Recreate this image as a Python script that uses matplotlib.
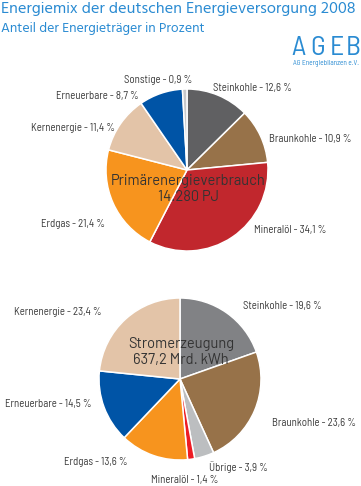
import matplotlib.pyplot as plt
from matplotlib import font_manager as fm

# Primärenergieverbrauch 2008 (Anteile in %)
pev_names = ['Steinkohle', 'Braunkohle', 'Mineralöl', 'Erdgas', 'Kernenergie', 'Erneuerbare', 'Sonstige']
pev_values = [12.6, 10.9, 34.1, 21.4, 11.4, 8.7, 0.9]
pev_colors = ['#606062', '#977249', '#c1272d', '#f7941e', '#e3c4a8', '#0054a6', '#c8c9cb']

# Stromerzeugung 2008 (Anteile in %)
strom_names = ['Steinkohle', 'Braunkohle', 'Übrige', 'Mineralöl', 'Erdgas', 'Erneuerbare', 'Kernenergie']
strom_values = [19.6, 23.6, 3.9, 1.4, 13.6, 14.5, 23.4]
strom_colors = ['#818285', '#977249', '#bcbec0', '#ed1c24', '#f7941e', '#0054a6', '#e3c4a8']

W, H = 361, 486
blue = '#2a8bd2'
txt = '#3a3a3a'

avail = {f.name for f in fm.fontManager.ttflist}


def pick(cands):
    for c in cands:
        if c in avail:
            return [c, 'DejaVu Sans']
    return ['DejaVu Sans']


cond = pick(['Barlow Semi Condensed', 'Barlow Condensed', 'Roboto Condensed', 'PT Sans Narrow',
             'Archivo Narrow', 'Liberation Sans'])
din = pick(['Barlow', 'Barlow Semi Condensed', 'Roboto', 'Liberation Sans'])
head = pick(['Hind', 'Noto Sans', 'Open Sans', 'Liberation Sans'])

fig = plt.figure(figsize=(W / 100, H / 100), dpi=100)
ax = fig.add_axes([0, 0, 1, 1])
ax.set_xlim(0, W)
ax.set_ylim(0, H)
renderer = fig.canvas.get_renderer()


def fit_size(s, family, target, weight='normal'):
    # Schriftgröße so wählen, dass der Text die Breite aus der Vorlage hat
    t = ax.text(0, 0, s, fontsize=10, family=family, fontweight=weight)
    w = t.get_window_extent(renderer).width
    t.remove()
    return 10 * target / w


def fmt(v):
    return f'{v:.1f}'.replace('.', ',')


def draw_pie(values, colors, cx, cy, r):
    ax.pie(values, colors=colors, startangle=90, counterclock=False,
           center=(cx, H - cy), radius=r, frame=True,
           wedgeprops=dict(edgecolor='white', linewidth=1.1))


# Label-Positionen (Pixel, von oben) und Ausrichtung
pev_label_pos = [(213, 88, 'left'), (269, 139, 'left'), (254, 230, 'left'), (105, 224, 'right'),
                 (115, 128, 'right'), (139, 96, 'right'), (192, 80, 'right')]
strom_label_pos = [(243, 306, 'left'), (272, 423, 'left'), (209, 467, 'left'), (218, 480, 'right'),
                   (128, 462, 'right'), (92, 404, 'right'), (102, 312, 'right')]

draw_pie(pev_values, pev_colors, 187, 170, 81)
draw_pie(strom_values, strom_colors, 180, 379, 81)

lab_fs = fit_size('Steinkohle - 12,6 %', cond, 79)
for n, v, (x, y, ha) in zip(pev_names, pev_values, pev_label_pos):
    ax.text(x, H - y, f'{n} - {fmt(v)} %', ha=ha, va='center', fontsize=lab_fs, color=txt, family=cond)
for n, v, (x, y, ha) in zip(strom_names, strom_values, strom_label_pos):
    ax.text(x, H - y, f'{n} - {fmt(v)} %', ha=ha, va='center', fontsize=lab_fs, color=txt, family=cond)

mid_fs = fit_size('Primärenergieverbrauch', din, 156)
ax.text(188, H - 189, 'Primärenergieverbrauch\n14.280 PJ', ha='center', va='center',
        fontsize=mid_fs, color='#333333', family=din, linespacing=1.15)
ax.text(181, H - 352, 'Stromerzeugung\n637,2 Mrd. kWh', ha='center', va='center',
        fontsize=mid_fs, color='#333333', family=din, linespacing=1.15)

# Titel
title = 'Energiemix der deutschen Energieversorgung 2008'
sub = 'Anteil der Energieträger in Prozent'
ax.text(1, H - 9, title, ha='left', va='center',
        fontsize=fit_size(title, head, 355), color=blue, family=head)
ax.text(1, H - 29, sub, ha='left', va='center',
        fontsize=fit_size(sub, head, 204), color=blue, family=head)

# Logo
for ch, x in zip('AGEB', [298.5, 318, 337, 353]):
    ax.text(x, H - 48.5, ch, ha='center', va='center', fontsize=20, color=blue,
            family=cond)
small = 'AG Energiebilanzen e.V.'
ax.text(359, H - 64, small, ha='right', va='center', fontsize=fit_size(small, cond, 66),
        color=blue, family=cond)

ax.set_xlim(0, W)
ax.set_ylim(0, H)
ax.set_aspect('equal')
ax.axis('off')

fig.savefig('out.png', dpi=100, facecolor='white')
